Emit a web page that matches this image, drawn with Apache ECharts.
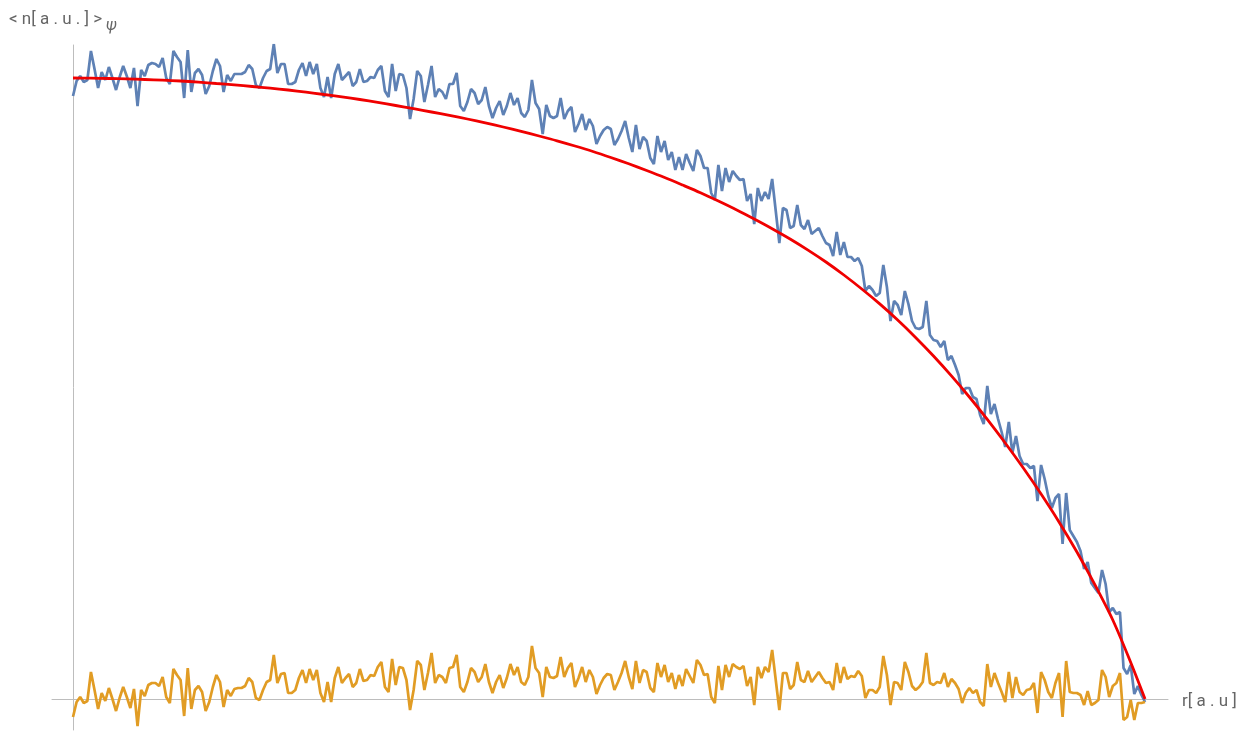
<!DOCTYPE html>
<html><head><meta charset="utf-8">
<script src="https://cdn.jsdelivr.net/npm/echarts@6/dist/echarts.min.js"></script>
<style>html,body{margin:0;padding:0;background:#fff}#c{width:1259px;height:731px}</style>
</head><body><div id="c"></div>
<script>
// measured density <n> (arbitrary units), one value per radial sample
const density = [
603,618,623,617,619,648,630,611,627,619,
632,621,609,622,633,623,611,631,593,629,
623,634,636,635,632,641,621,615,648,642,
637,601,649,607,626,630,624,605,613,628,
640,633,607,624,618,625,625,625,627,634,
630,614,611,621,628,630,655,626,635,635,
615,615,617,629,636,623,637,625,635,611,
602,622,601,625,635,619,623,627,613,617,
630,617,618,622,621,629,633,608,602,635,
608,625,624,611,580,600,628,623,597,614,
633,602,610,607,600,615,615,626,593,588,
597,610,606,595,599,612,593,581,591,598,
584,593,606,594,601,586,582,589,619,596,
590,565,594,583,581,583,601,580,588,592,
567,575,585,569,580,573,555,563,569,572,
570,554,560,568,578,561,547,574,550,562,
558,541,535,563,547,558,539,547,529,542,
529,545,536,528,549,543,531,531,506,499,
534,508,531,517,528,523,519,520,498,505,
475,511,498,507,500,520,488,456,491,489,
471,473,494,474,470,479,465,468,471,463,
456,454,443,467,444,457,442,442,438,441,
433,408,413,409,403,406,434,412,378,398,
394,384,408,395,378,371,370,372,398,364,
359,358,352,358,339,343,334,324,305,311,
311,302,300,284,275,313,285,295,280,267,
252,277,246,263,243,235,235,231,233,198,
234,220,203,191,201,205,155,206,169,163,
157,148,130,137,116,111,106,129,115,87,
91,85,87,31,25,34,5,13,4,-3
];
// residual (data - fit)
const residual = [
-18,-3,2,-4,-2,27,9,-10,6,-2,
11,0,-12,1,12,2,-9,10,-27,9,
3,14,16,16,13,22,2,-4,30,24,
19,-17,31,-10,9,13,7,-12,-3,12,
24,17,-8,9,3,10,11,11,13,21,
17,1,-1,9,17,19,44,16,25,26,
6,6,9,21,29,16,30,19,29,6,
-3,17,-3,21,32,16,21,25,12,16,
30,18,19,24,23,32,37,12,7,40,
14,32,31,19,-11,9,38,34,9,26,
46,16,24,22,16,31,32,44,12,7,
17,31,27,17,22,35,17,6,17,24,
11,21,35,24,32,17,14,22,53,31,
26,2,32,22,21,23,42,22,31,36,
12,21,32,17,29,22,5,14,21,25,
24,9,17,26,38,22,10,38,16,29,
27,11,7,36,22,34,17,26,10,24,
13,30,23,16,39,34,24,25,2,-4,
33,9,34,22,35,32,30,33,13,22,
-6,32,21,32,27,49,19,-11,26,26,
10,14,37,19,17,28,17,22,27,21,
16,17,9,36,16,32,20,23,22,28,
23,1,9,9,6,12,43,24,-6,17,
16,9,37,27,13,9,12,17,46,16,
14,17,16,26,12,20,16,10,-4,6,
11,6,9,-3,-7,35,12,26,16,7,
-3,27,1,22,7,4,9,10,16,-14,
27,19,7,1,16,26,-18,38,7,6,
6,4,-6,8,-6,-4,-1,29,22,2,
13,16,26,-21,-18,-1,-21,-4,-4,-3
];
// fitted profile, sampled at these radial sample indices
const fitIdx = [0,5,10,15,20,25,30,35,40,45,50,55,60,65,70,75,80,85,90,95,
  100,105,110,115,120,125,130,135,140,145,150,155,160,165,170,175,180,185,190,195,
  200,205,210,215,220,225,230,235,240,245,250,255,260,265,270,275,280,285,290,294.5,299];
const fitVal = [621,620.8,620.5,620.1,619.5,618.8,618,616.9,615.5,614.1,612.5,610.8,609,606.9,604.5,602.1,599.5,596.6,593.5,590.3,
  587,583.6,580,576.1,572,567.6,563,558.2,553,547.5,541.5,535.2,528.5,521.5,514,506.3,498,489.3,480,470.3,
  460,448.9,437,424,410,395.1,379,361.6,343,323.1,302,279.6,256,231.2,205,177.1,147,114.3,79,41,0];

const yLabel = '< n[ a . u . ] >';
const ySub = 'ψ';
const xLabel = 'r[ a . u ]';

const chart = echarts.init(document.getElementById('c'), null, {renderer: 'canvas'});
const axisCommon = {
  type: 'value',
  axisLine: {show: true, onZero: true, lineStyle: {color: '#bdbdbd', width: 1}},
  axisTick: {show: false},
  axisLabel: {show: false},
  splitLine: {show: false}
};
chart.setOption({
  animation: false,
  backgroundColor: '#ffffff',
  grid: {left: 52, right: 91, top: 45, bottom: 1, containLabel: false},
  xAxis: Object.assign({}, axisCommon, {min: -5.86, max: 305.4}),
  yAxis: Object.assign({}, axisCommon, {min: -31, max: 654}),
  series: [
    {type: 'line', data: density.map((v, i) => [i, v]), showSymbol: false,
     lineStyle: {color: '#5e81b5', width: 2.7}, z: 2},
    {type: 'line', data: residual.map((v, i) => [i, v]), showSymbol: false,
     lineStyle: {color: '#e19c24', width: 2.7}, z: 3},
    {type: 'line', data: fitIdx.map((x, k) => [x, fitVal[k]]), showSymbol: false,
     smooth: 0.3,
     lineStyle: {color: '#f00000', width: 2.8}, z: 4}
  ],
  graphic: [
    {type: 'text', left: 9, top: 11, style: {text: yLabel, font: '17px Roboto', fill: '#666'}},
    {type: 'text', left: 106, top: 18, style: {text: ySub, font: 'italic 16px Roboto', fill: '#666'}},
    {type: 'text', left: 1182, top: 693, style: {text: xLabel, font: '17px Roboto', fill: '#666'}}
  ]
});
</script>
</body></html>
